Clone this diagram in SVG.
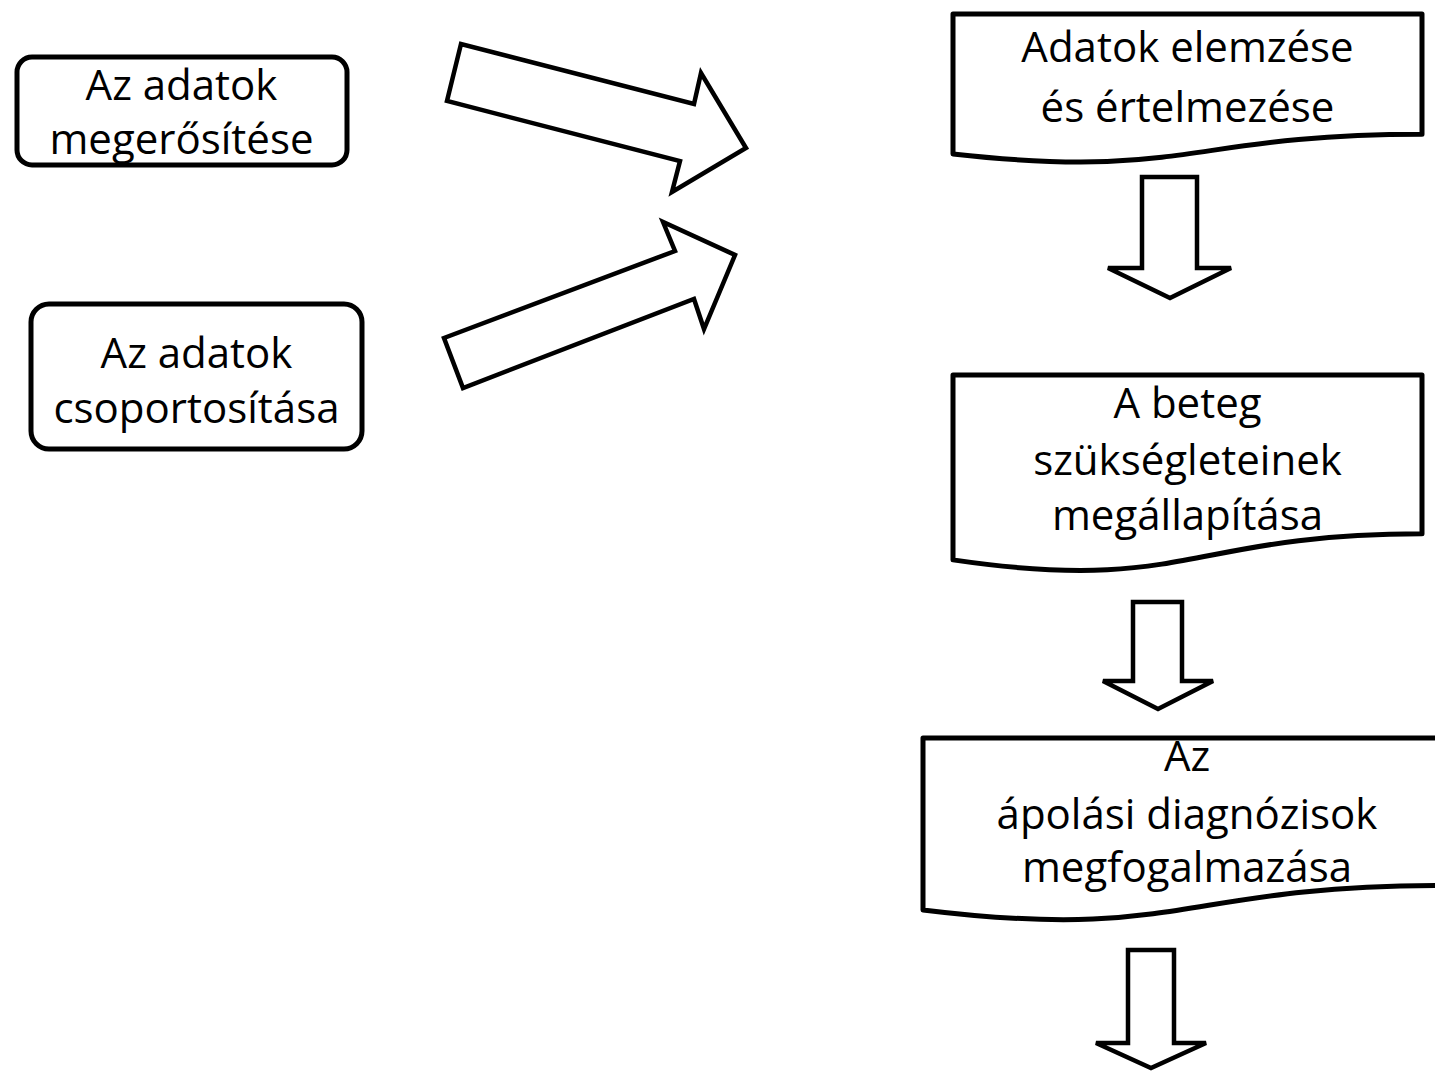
<svg xmlns="http://www.w3.org/2000/svg" width="1435" height="1071" viewBox="0 0 1435 1071">
<style>
.box{fill:#fff;stroke:#000;stroke-width:5;stroke-linejoin:round}
.arr{fill:#fff;stroke:#000;stroke-width:4.5;stroke-linejoin:miter}
.t{font-family:"Open Sans","Noto Sans","DejaVu Sans",sans-serif;font-size:42px;fill:#000;text-anchor:middle}
</style>
<rect width="1435" height="1071" fill="#fff"/>
<g id="connectors">
<polygon class="arr" points="461,44 447,101 680,161 672,192 746,148 701,73 694,104"/>
<polygon class="arr" points="663,222 675,251 444,338 463,388 694,299 704,329 735,255"/>
<polygon class="arr" points="1142,177 1197,177 1197,268 1231,268 1170,298 1108,268 1142,268"/>
<polygon class="arr" points="1133,602 1182,602 1182,681 1213,681 1158,709 1103,681 1133,681"/>
<polygon class="arr" points="1128,950 1174,950 1174,1043 1206,1043 1151,1068 1096,1043 1128,1043"/>
</g>
<g id="n1">
<rect class="box" x="17" y="57" width="330" height="108" rx="15"/>
<text class="t" x="181.5" y="100">Az adatok</text>
<text class="t" x="181.5" y="154">megerősítése</text>
</g>
<g id="n2">
<rect class="box" x="31" y="304" width="331" height="145" rx="18"/>
<text class="t" x="196.5" y="368">Az adatok</text>
<text class="t" x="196.5" y="423">csoportosítása</text>
</g>
<g id="n3">
<path class="box" d="M953,14 H1422 V134.3 C1187.5,134.3 1187.5,180.1 953,154 Z"/>
<text class="t" x="1187.5" y="62">Adatok elemzése</text>
<text class="t" x="1187.5" y="122">és értelmezése</text>
</g>
<g id="n4">
<path class="box" d="M953,375 H1422 V533.8 C1187.5,533.8 1187.5,594.3 953,559.9 Z"/>
<text class="t" x="1187.5" y="418">A beteg</text>
<text class="t" x="1187.5" y="475">szükségleteinek</text>
<text class="t" x="1187.5" y="530">megállapítása</text>
</g>
<g id="n5">
<path class="box" d="M923,738 H1440 V885.6 C1181.5,885.6 1181.5,941.8 923,909.9 Z"/>
<text class="t" x="1187" y="771">Az</text>
<text class="t" x="1187" y="829">ápolási diagnózisok</text>
<text class="t" x="1187" y="882">megfogalmazása</text>
</g>
</svg>
